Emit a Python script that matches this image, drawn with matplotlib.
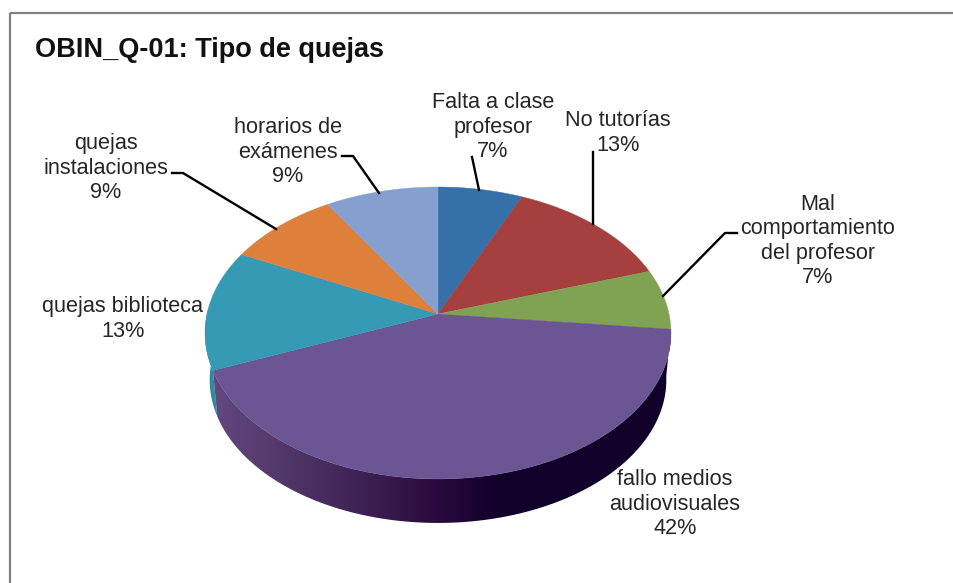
import numpy as np
from matplotlib import pyplot as plt
from matplotlib.patches import Polygon

plt.rcParams['font.family'] = ['Liberation Sans', 'DejaVu Sans']

# Data (counts out of 45 give the printed percentages)
categories = ['Falta a clase\nprofesor', 'No tutorías', 'Mal\ncomportamiento\ndel profesor',
              'fallo medios\naudiovisuales', 'quejas biblioteca', 'quejas\ninstalaciones',
              'horarios de\nexámenes']
values = [3, 6, 3, 19, 6, 4, 4]
percents = ['7%', '13%', '7%', '42%', '13%', '9%', '9%']
colors = ['#3670a8', '#a5403e', '#7fa353', '#6b5592', '#369ab5', '#dc803c', '#85a0cf']

# Pie geometry in pixels: apex, size and perspective of the tilted disc
cx, cy = 438, 314
A, B, k = 231, 143.5, 0.13
bottom_cy, bottom_scale = 361.3, 0.98


def rim(d0, d1, y0=cy, s=1.0, n=200):
    # point on the projected circle, angle clockwise from the top
    t = np.radians(np.linspace(d0, d1, n))
    w = 1 + k * np.cos(t)
    return cx + s * A * np.sin(t) / w, y0 - s * B * np.cos(t) / w


fig = plt.figure(figsize=(9.54, 5.83), dpi=100)
ax = fig.add_axes([0, 0, 1, 1])

edges = np.cumsum([0] + values) / sum(values) * 360

# Top face
for d0, d1, c in zip(edges[:-1], edges[1:], colors):
    xs, ys = rim(d0, d1)
    ax.fill(np.r_[cx, xs], np.r_[cy, ys], color=c, lw=0.3, zorder=3)

# Side wall: teal sliver, then the purple wall with its gradient
xt, yt = rim(edges[4], 272)
xb, yb = rim(272, edges[4], bottom_cy, bottom_scale)
ax.fill(np.r_[xt, xb], np.r_[yt, yb], color='#2d8aa3', lw=0, zorder=1.5)

xt, yt = rim(edges[3], edges[4])
xb, yb = rim(edges[4], edges[3], bottom_cy, bottom_scale)
wall_xy = np.c_[np.r_[xt, xb], np.r_[yt, yb]]
grad_x = np.arange(205, 680)
stops_x = [214, 300, 400, 438, 500, 680]
stops_r = [0x62, 0x4d, 0x35, 0x2a, 0x10, 0x10]
stops_g = [0x48, 0x33, 0x16, 0x0a, 0x00, 0x00]
stops_b = [0x7c, 0x66, 0x48, 0x3e, 0x2a, 0x2a]
grad = np.stack([np.interp(grad_x, stops_x, s) for s in (stops_r, stops_g, stops_b)], axis=1)
im = ax.imshow(grad[np.newaxis, :, :].astype(np.uint8), extent=(205, 680, 530, 300),
               aspect='auto', zorder=2, interpolation='bilinear')
clip = Polygon(wall_xy, closed=True, transform=ax.transData)
im.set_clip_path(clip)

ax.set_xlim(0, 954)
ax.set_ylim(583, 0)
ax.axis('off')

# Chart border, top and left only
ax.plot([10, 954], [13, 13], color='#808080', lw=1.6, zorder=1, solid_capstyle='butt')
ax.plot([10, 10], [13, 583], color='#808080', lw=1.6, zorder=1, solid_capstyle='butt')

ax.text(35, 50, 'OBIN_Q-01: Tipo de quejas', fontsize=19.5, fontweight='bold',
        color='#111111', ha='left', va='center')

# Data labels, same order as categories
label_pos = [(493, 127), (618, 133), (818, 241), (675, 504), (123, 319), (106, 168), (288, 152)]
for name, pct, (x, y) in zip(categories, percents, label_pos):
    ax.text(x, y, name + '\n' + pct, fontsize=15.6, color='#262626', ha='center', va='center',
            linespacing=1.22, zorder=5)

# Leader lines
leaders = [([472, 479], [157, 190]),
           ([593, 593], [152, 224]),
           ([737, 725, 663], [233, 233, 296]),
           ([172, 183, 276], [173, 173, 229]),
           ([342, 353, 379], [156, 156, 193])]
for lx, ly in leaders:
    ax.plot(lx, ly, color='black', lw=1.7, zorder=4)

fig.savefig('out.png', dpi=100, facecolor='white')
